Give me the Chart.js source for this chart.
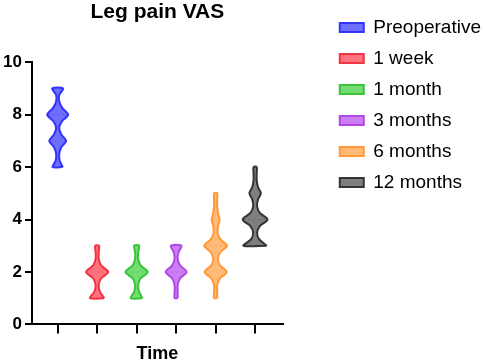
<!DOCTYPE html>
<html>
<head>
<meta charset="utf-8">
<script src="https://cdn.jsdelivr.net/npm/chart.js@4.4.1/dist/chart.umd.min.js"></script>
<style>
  html, body { margin: 0; padding: 0; background: #fff; }
  #wrap { width: 483px; height: 363px; }
</style>
</head>
<body>
<div id="wrap"><canvas id="LegPainVAS"></canvas></div>
<script>
// groups on the x axis
const groups = ["Preoperative", "1 week", "1 month", "3 months", "6 months", "12 months"];
// range of each violin (VAS score)
const yMin = [6, 1, 1, 1, 1, 3];
const yMax = [9, 3, 3, 3, 5, 6];
// half width of each violin, read every 0.25 from yMin up to yMax (x units)
const step = 0.25;
const widthPreop = [0.13, 0.05, 0.04, 0.09, 0.215, 0.09, 0.04, 0.11, 0.265, 0.12, 0.04, 0.04, 0.14];
const width1w = [0.18, 0.07, 0.04, 0.1, 0.28, 0.1, 0.04, 0.04, 0.05];
const width1m = [0.15, 0.06, 0.04, 0.1, 0.28, 0.1, 0.04, 0.04, 0.065];
const width3m = [0.04, 0.04, 0.04, 0.1, 0.265, 0.1, 0.04, 0.06, 0.135];
const width6m = [0.04, 0.04, 0.04, 0.11, 0.28, 0.11, 0.06, 0.12, 0.29, 0.12, 0.05, 0.06, 0.1, 0.06, 0.04, 0.04, 0.04];
const width12m = [0.295, 0.1, 0.05, 0.12, 0.315, 0.12, 0.05, 0.07, 0.145, 0.07, 0.04, 0.04, 0.04];
const halfWidths = [widthPreop, width1w, width1m, width3m, width6m, width12m];
const medians = [8, 2, 2, 2, 3, 4];
const quartiles = [7, 2, 2, 2, 2, 4];
const yTicks = [0, 2, 4, 6, 8, 10];

const borderColors = ["rgba(45,45,250,0.95)", "rgba(240,45,60,0.95)", "rgba(50,195,50,0.95)",
  "rgba(175,65,230,0.95)", "rgba(255,150,50,0.95)", "rgba(45,45,45,0.95)"];
const fillColors = ["rgba(85,85,255,0.85)", "rgba(255,90,105,0.85)", "rgba(90,215,90,0.85)",
  "rgba(195,105,240,0.85)", "rgba(255,175,95,0.85)", "rgba(105,105,105,0.85)"];

const datasets = [];
const marks = [];
groups.forEach((g, i) => {
  const c = i + 1;
  const w = halfWidths[i];
  const ys = w.map((_, k) => yMin[i] + k * step);
  const right = ys.map((y, k) => ({ x: c + w[k], y: y }));
  const left = ys.map((y, k) => ({ x: c - w[k], y: y })).reverse();
  datasets.push({
    label: g,
    data: right.concat(left, [right[0]]),
    showLine: true,
    fill: "shape",
    backgroundColor: fillColors[i],
    borderColor: borderColors[i],
    borderWidth: 2,
    pointRadius: 0,
    tension: 0.3,
  });
  const hwAt = (v) => w[Math.round((v - yMin[i]) / step)];
  marks.push({
    label: "",
    mark: true,
    data: [{ x: c - hwAt(medians[i]), y: medians[i] }, { x: c + hwAt(medians[i]), y: medians[i] }],
    showLine: true,
    borderColor: "rgba(0,0,0,0.45)",
    borderWidth: 1,
    borderDash: [3, 2],
    pointRadius: 0,
  });
  if (quartiles[i] !== medians[i]) {
    marks.push({
      label: "",
      mark: true,
      data: [{ x: c - hwAt(quartiles[i]), y: quartiles[i] }, { x: c + hwAt(quartiles[i]), y: quartiles[i] }],
      showLine: true,
      borderColor: "rgba(0,0,0,0.35)",
      borderWidth: 1,
      borderDash: [1, 2],
      pointRadius: 0,
    });
  }
});

Chart.defaults.font.family = "'Liberation Sans', Arial, sans-serif";
Chart.defaults.color = "#000";

const config_LegPain = {
  type: "scatter",
  data: { datasets: datasets.concat(marks) },
  options: {
    responsive: true,
    maintainAspectRatio: false,
    animation: false,
    layout: { padding: { right: -8 } },
    scales: {
      x: {
        type: "linear",
        min: 0.35,
        max: 6.7,
        afterBuildTicks: (scale) => {
          scale.ticks = groups.map((_, i) => ({ value: i + 1 }));
        },
        ticks: { display: false },
        grid: { drawOnChartArea: false, drawTicks: true, tickLength: 9, color: "#000", lineWidth: 2 },
        border: { color: "#000", width: 2 },
        title: { display: true, text: "Time", font: { size: 18, weight: "bold" }, padding: { top: 10, bottom: -2 } },
      },
      y: {
        min: 0,
        max: 10,
        afterBuildTicks: (scale) => {
          scale.ticks = yTicks.map((v) => ({ value: v }));
        },
        ticks: { font: { size: 17, weight: "bold" }, color: "#000", padding: 3 },
        grid: { drawOnChartArea: false, drawTicks: true, tickLength: 7, color: "#000", lineWidth: 2 },
        border: { color: "#000", width: 2 },
        afterFit: (scale) => { scale.width = 32; },
      },
      gap: {
        type: "linear",
        position: "right",
        display: true,
        ticks: { display: false },
        grid: { display: false },
        border: { display: false },
        afterFit: (scale) => { scale.width = 45; },
      },
    },
    plugins: {
      title: {
        display: true,
        text: "Leg pain VAS",
        fullSize: false,
        font: { size: 21, weight: "bold" },
        padding: { top: 0, bottom: 37 },
      },
      legend: {
        position: "right",
        align: "start",
        maxWidth: 220,
        title: { display: true, text: " ", padding: 0, font: { size: 5 } },
        labels: {
          boxWidth: 24,
          boxHeight: 9,
          padding: 12,
          font: { size: 19 },
          color: "#000",
          filter: (item, data) => !data.datasets[item.datasetIndex].mark,
        },
      },
      tooltip: { enabled: false },
    },
  },
};

const LegPain = new Chart(document.getElementById("LegPainVAS"), config_LegPain);
</script>
</body>
</html>
